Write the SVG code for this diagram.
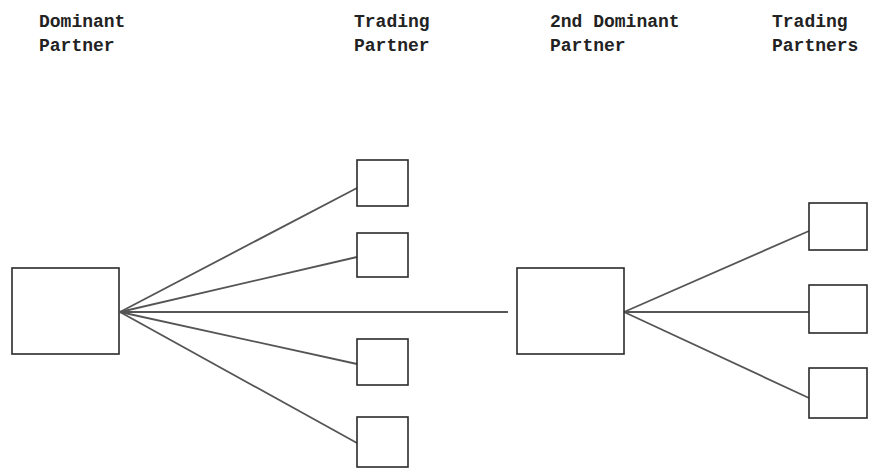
<svg xmlns="http://www.w3.org/2000/svg" width="869" height="469" viewBox="0 0 869 469">
<style>
.bg{fill:#ffffff}
.box{fill:#ffffff;stroke:#2a2a2a;stroke-width:1.6}
.ln{fill:none;stroke:#555555;stroke-width:1.8}
.t{font-family:"Liberation Mono","DejaVu Sans Mono",monospace;font-size:18px;font-weight:bold;fill:#222222}
</style>
<rect class="bg" x="0" y="0" width="869" height="469"/>
<g id="labels">
<text class="t" x="39" y="27">Dominant</text>
<text class="t" x="39" y="51">Partner</text>
<text class="t" x="354" y="27">Trading</text>
<text class="t" x="354" y="51">Partner</text>
<text class="t" x="550" y="27">2nd Dominant</text>
<text class="t" x="550" y="51">Partner</text>
<text class="t" x="772" y="27">Trading</text>
<text class="t" x="772" y="51">Partners</text>
</g>
<g id="connectors">
<line class="ln" x1="120" y1="312" x2="357" y2="188"/>
<line class="ln" x1="120" y1="312" x2="357" y2="257"/>
<line class="ln" x1="120" y1="312" x2="508" y2="312"/>
<line class="ln" x1="120" y1="312" x2="357" y2="364"/>
<line class="ln" x1="120" y1="312" x2="357" y2="443"/>
<line class="ln" x1="624" y1="312" x2="809" y2="231"/>
<line class="ln" x1="624" y1="312" x2="809" y2="312"/>
<line class="ln" x1="624" y1="312" x2="809" y2="398"/>
</g>
<g id="dominant"><rect class="box" x="12" y="268" width="107" height="86"/></g>
<g id="tp1"><rect class="box" x="357" y="160" width="51" height="46"/></g>
<g id="tp2"><rect class="box" x="357" y="233" width="51" height="44"/></g>
<g id="tp3"><rect class="box" x="357" y="339" width="51" height="46"/></g>
<g id="tp4"><rect class="box" x="357" y="417" width="51" height="50"/></g>
<g id="dominant2"><rect class="box" x="517" y="268" width="107" height="86"/></g>
<g id="tp5"><rect class="box" x="809" y="203" width="58" height="47"/></g>
<g id="tp6"><rect class="box" x="809" y="285" width="58" height="48"/></g>
<g id="tp7"><rect class="box" x="809" y="368" width="58" height="50"/></g>
</svg>
